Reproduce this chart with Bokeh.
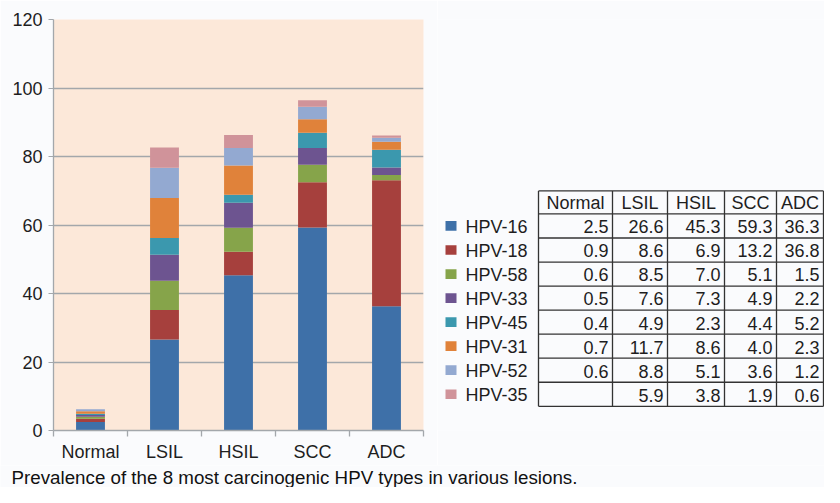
from bokeh.plotting import figure
from bokeh.models import ColumnDataSource, Range1d, FixedTicker
from bokeh.layouts import column, row
from bokeh.embed import file_html
from bokeh.resources import INLINE

# ---------------- data ----------------
categories = ["Normal", "LSIL", "HSIL", "SCC", "ADC"]
hpv_types = ["HPV-16", "HPV-18", "HPV-58", "HPV-33", "HPV-45", "HPV-31", "HPV-52", "HPV-35"]
hpv16 = [2.5, 26.6, 45.3, 59.3, 36.3]
hpv18 = [0.9, 8.6, 6.9, 13.2, 36.8]
hpv58 = [0.6, 8.5, 7.0, 5.1, 1.5]
hpv33 = [0.5, 7.6, 7.3, 4.9, 2.2]
hpv45 = [0.4, 4.9, 2.3, 4.4, 5.2]
hpv31 = [0.7, 11.7, 8.6, 4.0, 2.3]
hpv52 = [0.6, 8.8, 5.1, 3.6, 1.2]
hpv35 = [None, 5.9, 3.8, 1.9, 0.6]
series = [hpv16, hpv18, hpv58, hpv33, hpv45, hpv31, hpv52, hpv35]
y_ticks = [0, 20, 40, 60, 80, 100, 120]
caption = "Prevalence of the 8 most carcinogenic HPV types in various lesions."

# ---------------- style ----------------
colors = ["#3e70a8", "#a6403d", "#86a44a", "#6d5490", "#3b98ae", "#e0823a", "#93a9d1", "#d0939a"]
FONT = "Liberation Sans"
FS = "18px"
PAGE_BG = "#fafbfd"
PLOT_BG = "#fce8d9"
GRID = "#a3a7ab"
TEXT = "#1e1e1e"

W_CHART, H_TOP, W_ALL, H_CAP = 437, 465, 824, 22

# ---------------- chart ----------------
xs = [i + 0.5 for i in range(len(categories))]
data = {"x": xs}
for name, vals in zip(hpv_types, series):
    data[name] = [0 if v is None else v for v in vals]
src = ColumnDataSource(data)

chart = figure(width=W_CHART, height=H_TOP, output_backend="svg", toolbar_location=None,
               x_range=Range1d(0, len(categories)), y_range=Range1d(y_ticks[0], y_ticks[-1]),
               min_border_left=53, min_border_right=14, min_border_top=19,
               min_border_bottom=35)
chart.vbar_stack(hpv_types, x="x", width=0.39, source=src, color=colors, line_color=None)

chart.background_fill_color = PLOT_BG
chart.border_fill_color = PAGE_BG
chart.outline_line_color = None
chart.xgrid.grid_line_color = None
chart.ygrid.grid_line_color = GRID
chart.ygrid.grid_line_width = 1.3

yax = chart.yaxis[0]
yax.ticker = FixedTicker(ticks=y_ticks)
yax.axis_line_color = GRID
yax.axis_line_width = 1.3
yax.major_tick_line_color = GRID
yax.major_tick_out = 5
yax.major_tick_in = 0
yax.minor_tick_out = 0
yax.minor_tick_in = 0
yax.major_label_standoff = 6
yax.major_label_text_font = FONT
yax.major_label_text_font_size = FS
yax.major_label_text_color = TEXT

xax = chart.xaxis[0]
xax.ticker = FixedTicker(ticks=xs, minor_ticks=list(range(len(categories) + 1)))
xax.major_label_overrides = {x: c for x, c in zip(xs, categories)}
xax.axis_line_color = GRID
xax.axis_line_width = 1.3
xax.major_tick_in = 0
xax.major_tick_out = 0
xax.minor_tick_in = 0
xax.minor_tick_out = 6
xax.minor_tick_line_color = GRID
xax.minor_tick_line_width = 1.3
xax.major_label_standoff = 5
xax.major_label_text_font = FONT
xax.major_label_text_font_size = FS
xax.major_label_text_color = TEXT

# ---------------- legend + data table (pixel space) ----------------
tbl = figure(width=W_ALL - W_CHART, height=H_TOP, output_backend="svg", toolbar_location=None,
             x_range=Range1d(W_CHART, W_ALL), y_range=Range1d(H_TOP, 0),
             min_border=0, min_border_left=0, min_border_right=0, min_border_top=0, min_border_bottom=0)
tbl.axis.visible = False
tbl.grid.visible = False
tbl.outline_line_color = None
tbl.background_fill_color = PAGE_BG
tbl.border_fill_color = PAGE_BG

col_edges = [538, 612, 667, 724, 776, 823]
head_top, head_bot = 194, 220
row_h = 27.2
row_edges = [head_top, head_bot] + [head_bot + row_h * (i + 1) for i in range(len(hpv_types))]
tbl_bottom = row_edges[-1]

tbl.segment(x0=[col_edges[0]] * len(row_edges), x1=[col_edges[-1]] * len(row_edges),
            y0=row_edges, y1=row_edges, line_color="#333333", line_width=1.3)
tbl.segment(x0=col_edges, x1=col_edges, y0=[head_top] * len(col_edges),
            y1=[tbl_bottom] * len(col_edges), line_color="#333333", line_width=1.3)

hx = [(col_edges[i] + col_edges[i + 1]) / 2 for i in range(len(categories))]
tbl.text(x=hx, y=[(head_top + head_bot) / 2 + 1] * len(categories), text=categories,
         text_align="center", text_baseline="middle", text_font_size=FS,
         text_font={"value": FONT}, text_color=TEXT)

vx, vy, vt = [], [], []
row_centers = [(row_edges[i + 1] + row_edges[i + 2]) / 2 for i in range(len(hpv_types))]
for r, vals in enumerate(series):
    for c, v in enumerate(vals):
        vx.append(col_edges[c + 1] - 4)
        vy.append(row_centers[r] + 1)
        vt.append("" if v is None else f"{v:.1f}")
tbl.text(x=vx, y=vy, text=vt, text_align="right", text_baseline="middle",
         text_font_size=FS, text_font={"value": FONT}, text_color=TEXT)

tbl.rect(x=[450.5] * len(hpv_types), y=row_centers, width=11, height=11,
         color=colors, line_color=None)
tbl.text(x=[465] * len(hpv_types), y=[rc + 1 for rc in row_centers], text=hpv_types,
         text_align="left", text_baseline="middle", text_font_size=FS,
         text_font={"value": FONT}, text_color=TEXT)

# ---------------- caption ----------------
cap = figure(width=W_ALL, height=H_CAP, output_backend="svg", toolbar_location=None,
             x_range=Range1d(0, W_ALL), y_range=Range1d(H_CAP, 0),
             min_border=0, min_border_left=0, min_border_right=0, min_border_top=0, min_border_bottom=0)
cap.axis.visible = False
cap.grid.visible = False
cap.outline_line_color = None
cap.background_fill_color = PAGE_BG
cap.border_fill_color = PAGE_BG
cap.text(x=[11], y=[H_CAP / 2 + 0.5], text=[caption], text_align="left", text_baseline="middle",
         text_font_size="18.75px", text_font={"value": FONT}, text_color="#111111")

layout = column(row(chart, tbl, spacing=0), cap, spacing=0)
open("out.html", "w").write(file_html(layout, INLINE))
